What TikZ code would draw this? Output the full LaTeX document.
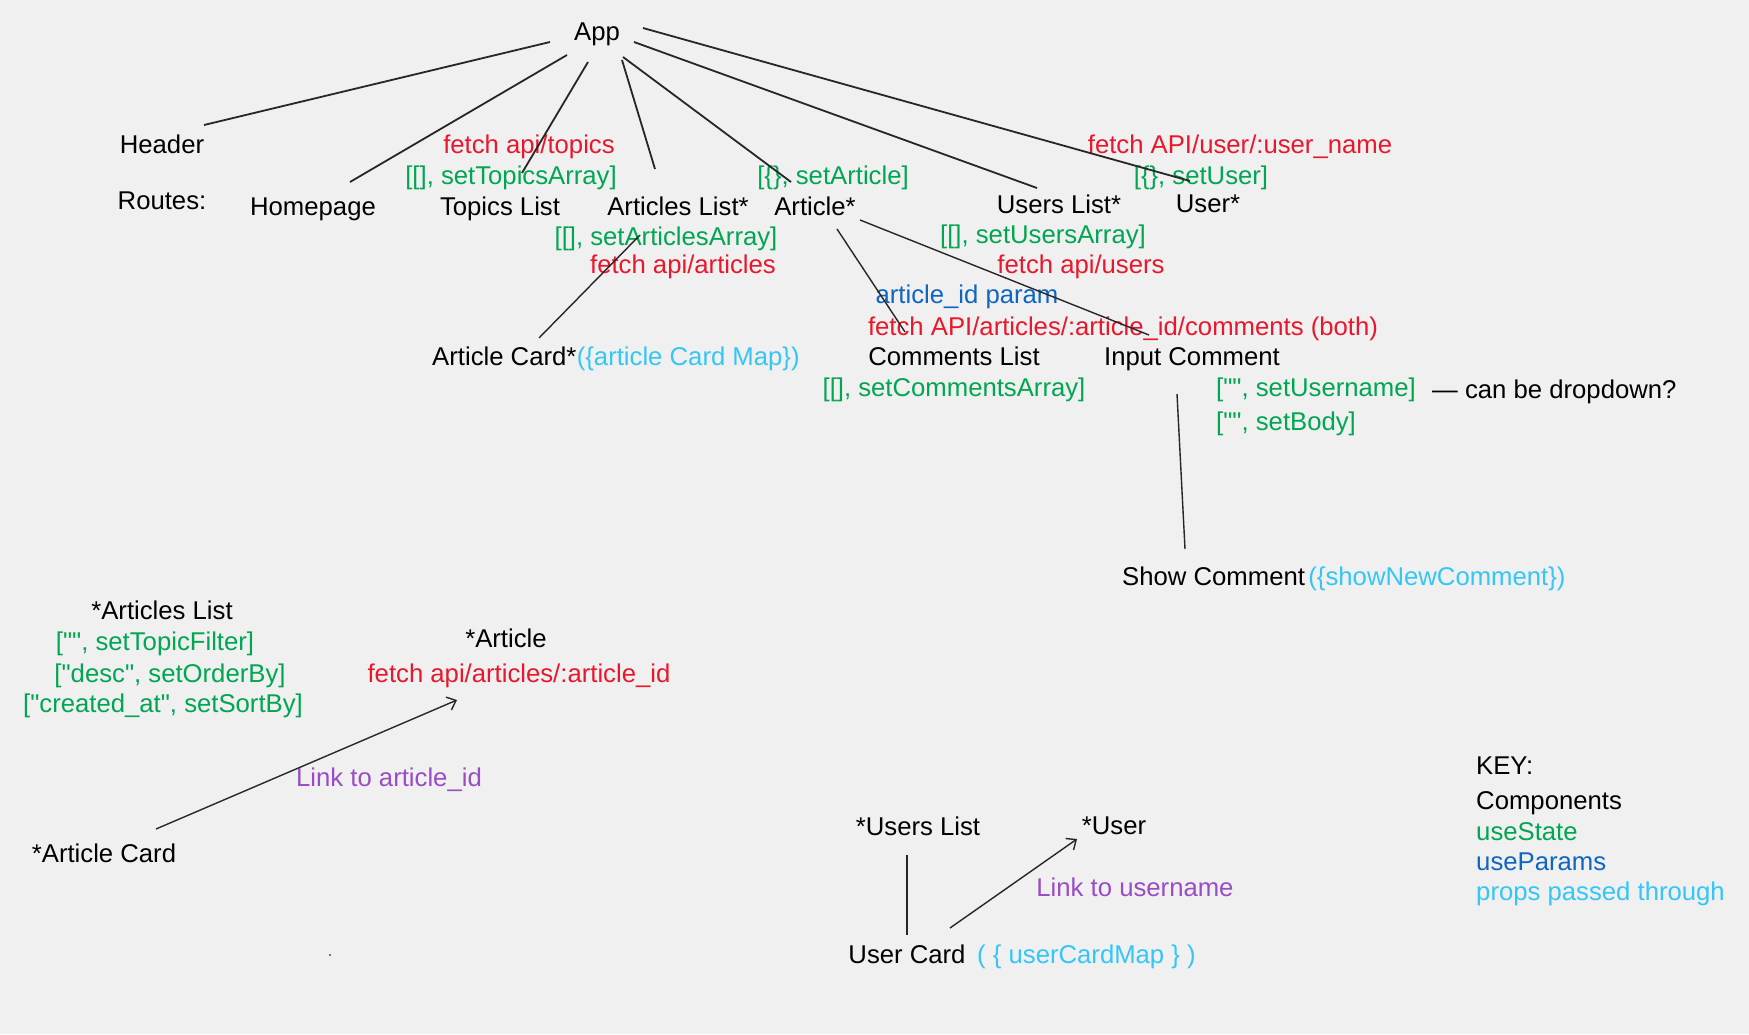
\documentclass[tikz,border=0pt]{standalone}
\usepackage{fontspec}
\setmainfont{Liberation Sans}
\newfontfamily\qfont{Liberation Sans}[Ligatures=ResetAll]
\usetikzlibrary{arrows.meta}
\newcommand{\stq}{{\qfont\symbol{34}}}
\definecolor{bg}{HTML}{F0F0F0}
\definecolor{cred}{HTML}{E8182C}
\definecolor{cgreen}{HTML}{00A651}
\definecolor{cblue}{HTML}{0F66C0}
\definecolor{clight}{HTML}{33C6F7}
\definecolor{cpurple}{HTML}{9A4CC4}
\begin{document}
\begin{tikzpicture}[x=1pt,y=-1pt,
  lbl/.style={inner sep=0pt, anchor=base, font=\fontsize{25.7}{30}\selectfont},
  comp/.style={lbl, text=black},
  st/.style={lbl, text=cgreen},
  ftc/.style={lbl, text=cred},
  prm/.style={lbl, text=cblue},
  prp/.style={lbl, text=clight},
  lnk/.style={lbl, text=cpurple},
  edge/.style={draw=black!85, line width=1.8pt},
  thinedge/.style={draw=black!85, line width=1.4pt},
  arr/.style={thinedge, -{Straight Barb[length=8pt,width=14pt]}}
]
\fill[bg] (0,0) rectangle (1749,1034);
\useasboundingbox (0,0) rectangle (1749,1034);

% top level
\node[comp] (app) at (597,40) {App};
\node[comp] (header) at (162,153) {Header};
\node[comp] (routes) at (162,209) {Routes:};
\node[comp] (home) at (313,215) {Homepage};
\node[ftc] (ftopics) at (529,153) {fetch api/topics};
\node[st] (stopics) at (511,184) {[[], setTopicsArray]};
\node[comp] (topics) at (500,215) {Topics List};
\node[comp] (alist) at (678,215) {Articles List*};
\node[st] (sarticles) at (666,245) {[[], setArticlesArray]};
\node[ftc] (farticles) at (683,273) {fetch api/articles};
\node[st] (sarticle) at (833,184) {[\{\}, setArticle]};
\node[comp] (article) at (815,215) {Article*};
\node[comp] (ulist) at (1059,213) {Users List*};
\node[st] (susers) at (1043,243) {[[], setUsersArray]};
\node[ftc] (fusers) at (1081,273) {fetch api/users};
\node[ftc] (fuser) at (1240,153) {fetch API/user/:user\_name};
\node[st] (suser) at (1201,184) {[\{\}, setUser]};
\node[comp] (user) at (1208,212) {User*};

% second level
\node[prm] (aparam) at (967,303) {article\_id param};
\node[ftc] (fcomments) at (1123,335) {fetch API/articles/:article\_id/comments (both)};
\node[comp, anchor=base west] (acard) at (432,365) {Article Card*};
\node[prp, anchor=base west] (acmap) at (acard.base east) {(\{article Card Map\})};
\node[comp] (clist) at (954,365) {Comments List};
\node[st] (scomments) at (954,396) {[[], setCommentsArray]};
\node[comp] (icomment) at (1192,365) {Input Comment};
\node[st, anchor=base west] (susername) at (1216,396) {[\stq\stq, setUsername]};
\node[comp, anchor=base west] (dropdown) at (1432,398) {— can be dropdown?};
\node[st, anchor=base west] (sbody) at (1216,430) {[\stq\stq, setBody]};
\node[comp, anchor=base west] (scomment) at (1122,585) {Show Comment};
\node[prp, anchor=base west] (sncomment) at ([xshift=3pt]scomment.base east) {(\{showNewComment\})};

% lower left
\node[comp] (alist2) at (162,619) {*Articles List};
\node[st] (stopic) at (155,650) {[\stq\stq, setTopicFilter]};
\node[st] (sorder) at (170,682) {[\stq desc\stq, setOrderBy]};
\node[st] (ssort) at (163,712) {[\stq created\_at\stq, setSortBy]};
\node[comp] (article2) at (506,647) {*Article};
\node[ftc] (farticle2) at (519,682) {fetch api/articles/:article\_id};
\node[lnk] (lnkart) at (389,786) {Link to article\_id};
\node[comp] (acard2) at (104,862) {*Article Card};
\fill[black!70] (330,955) circle (1.2pt);

% lower middle
\node[comp] (ulist2) at (918,835) {*Users List};
\node[comp] (user2) at (1114,834) {*User};
\node[lnk] (lnkuser) at (1135,896) {Link to username};
\node[comp] (ucard) at (907,963) {User Card};
\node[prp, anchor=base west] (ucmap) at (977,963) {( \{ userCardMap \} )};

% key
\node[comp, anchor=base west] (key) at (1476,774) {KEY:};
\node[comp, anchor=base west] (kcomp) at (1476,809) {Components};
\node[st, anchor=base west] (kstate) at (1476,840) {useState};
\node[prm, anchor=base west] (kparams) at (1476,870) {useParams};
\node[prp, anchor=base west] (kprops) at (1476,900) {props passed through};

% connector end points
\coordinate (a1) at (550,42);  \coordinate (h1) at (204,125);
\coordinate (a2) at (567,55);  \coordinate (h2) at (350,182);
\coordinate (a3) at (588,62);  \coordinate (t3) at (522,173);
\coordinate (a4) at (622,60);  \coordinate (l4) at (655,169);
\coordinate (a5) at (623,57);  \coordinate (r5) at (791,182);
\coordinate (a6) at (634,42);  \coordinate (u6) at (1037,188);
\coordinate (a7) at (643,28);  \coordinate (u7) at (1190,181);
\coordinate (r8) at (837,229); \coordinate (c8) at (905,332);
\coordinate (r9) at (860,220); \coordinate (i9) at (1149,335);
\coordinate (l10) at (640,235); \coordinate (k10) at (539,338);
\coordinate (i11) at (1177,394); \coordinate (s11) at (1185,549);
\coordinate (k12) at (156,829); \coordinate (r12) at (457,700);
\coordinate (u13) at (907,855); \coordinate (c13) at (907,935);
\coordinate (c14) at (950,928); \coordinate (u14) at (1077,839);

\draw[edge] (a1) -- (h1);
\draw[edge] (a2) -- (h2);
\draw[edge] (a3) -- (t3);
\draw[edge] (a4) -- (l4);
\draw[edge] (a5) -- (r5);
\draw[edge] (a6) -- (u6);
\draw[edge] (a7) -- (u7);
\draw[thinedge] (r8) -- (c8);
\draw[thinedge] (r9) -- (i9);
\draw[thinedge] (l10) -- (k10);
\draw[thinedge] (i11) -- (s11);
\draw[arr] (k12) -- (r12);
\draw[thinedge] (u13) -- (c13);
\draw[arr] (c14) -- (u14);
\end{tikzpicture}
\end{document}
